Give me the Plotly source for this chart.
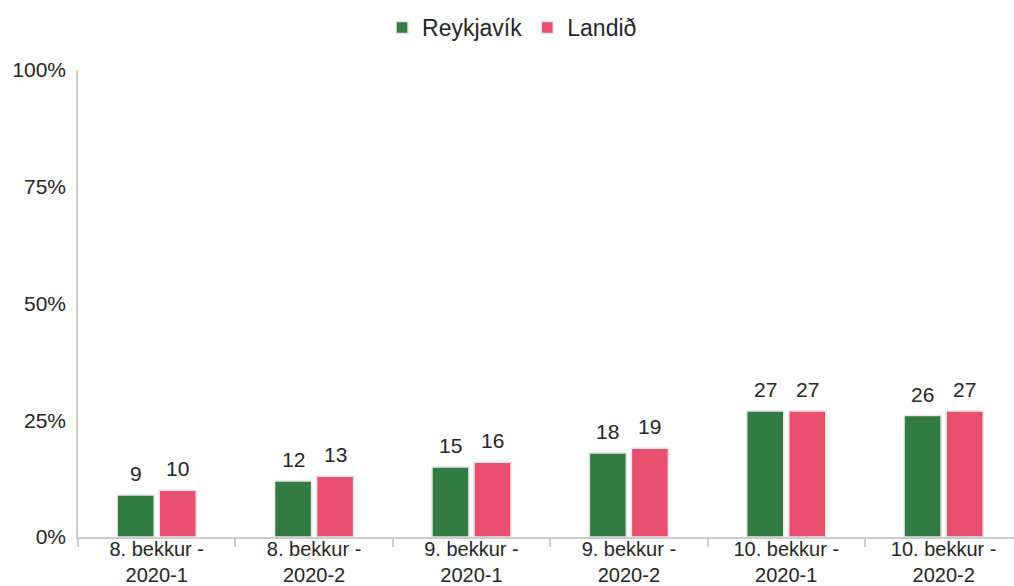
import plotly.graph_objects as go

categories = ["8. bekkur -<br>2020-1", "8. bekkur -<br>2020-2", "9. bekkur -<br>2020-1",
              "9. bekkur -<br>2020-2", "10. bekkur -<br>2020-1", "10. bekkur -<br>2020-2"]
reykjavik = [9, 12, 15, 18, 27, 26]
landid = [10, 13, 16, 19, 27, 27]

GREEN = "#337a43"
PINK = "#e94f6f"
FONT = "Liberation Sans, Arial, sans-serif"
TXT = "#262626"

fig = go.Figure()
series = [("Reykjavík", reykjavik, GREEN, -21), ("Landið", landid, PINK, 21)]
for name, vals, col, shift in series:
    fig.add_trace(go.Bar(
        x=categories, y=vals, name=name,
        marker=dict(color=col, line=dict(color="#e6e6e6", width=1.5)),
    ))
    # value labels above each bar
    for cat, v in zip(categories, vals):
        fig.add_annotation(x=cat, y=v, text=str(v), showarrow=False,
                           xshift=shift, yshift=8, yanchor="bottom",
                           font=dict(size=21, color=TXT, family=FONT))

fig.update_layout(
    width=1014, height=586,
    margin=dict(l=78, r=0, t=70, b=49),
    paper_bgcolor="white", plot_bgcolor="white",
    barmode="group", bargap=0.466, bargroupgap=0.12,
    font=dict(family=FONT, color=TXT, size=21),
    legend=dict(orientation="h", xref="container", yref="container",
                x=0.505, y=0.953, xanchor="center", yanchor="middle",
                font=dict(size=23, color=TXT), itemwidth=30),
    showlegend=True,
)
fig.update_yaxes(range=[0, 100], dtick=25, ticksuffix="%", showgrid=False,
                 showline=True, linecolor="#cccccc", linewidth=1.5, zeroline=False,
                 ticks="", ticklabelstandoff=6, automargin=False,
                 tickfont=dict(size=21, color=TXT))
fig.update_xaxes(range=[-0.5, 5.447], showline=True, linecolor="#cccccc", linewidth=1.5,
                 tickson="boundaries", ticks="outside", ticklen=8, tickcolor="#cccccc",
                 tickwidth=1.5, automargin=False, ticklabelstandoff=-7,
                 tickfont=dict(size=20, color=TXT))

fig.write_html("out.html")
